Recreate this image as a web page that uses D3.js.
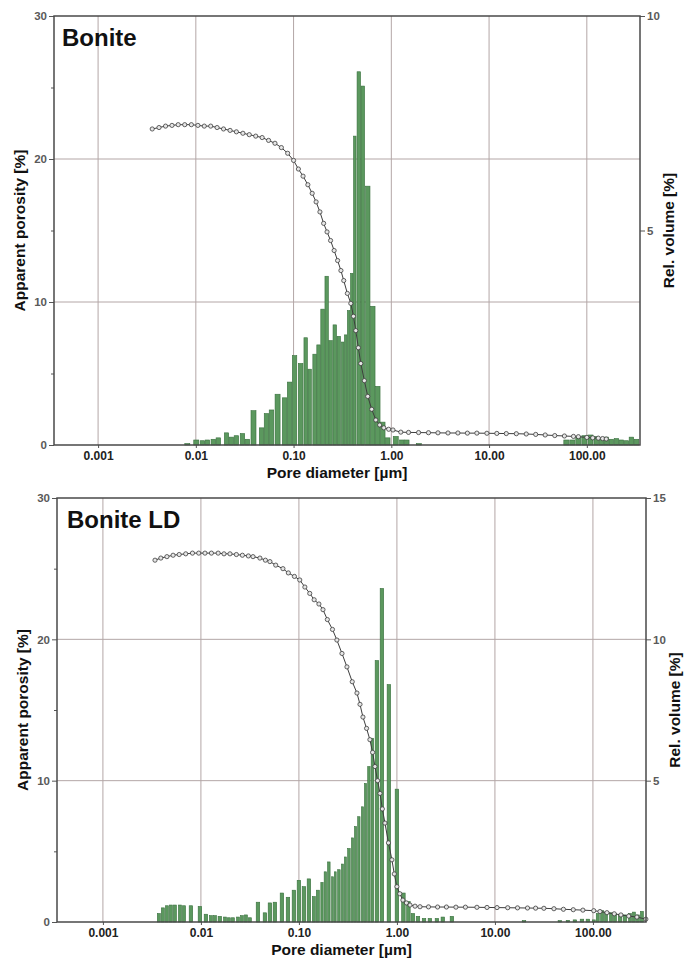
<!DOCTYPE html>
<html>
<head>
<meta charset="utf-8">
<script src="https://cdn.jsdelivr.net/npm/d3@7"></script>
<style>
  body { margin: 0; background: #fff; }
  svg { display: block; font-family: "Liberation Sans", Arial, sans-serif; }
</style>
</head>
<body>
<svg id="chart" width="688" height="963"></svg>
<script>
// pore diameter axis (µm, log)
const xTicks = [0.001, 0.01, 0.1, 1, 10, 100]
const xTickLabels = ["0.001", "0.01", "0.10", "1.00", "10.00", "100.00"]
const leftTicks = [0, 10, 20, 30]
const leftMinor = [5, 15, 25]

// Bonite - histogram (apparent porosity %)
const boniteD = [0.00818, 0.0101, 0.01167, 0.01313, 0.0151, 0.0170, 0.0206, 0.0231, 0.0260, 0.0300,
  0.0337, 0.0389, 0.0470, 0.0528, 0.0594, 0.0686, 0.0809, 0.0910, 0.1023, 0.118,
  0.133, 0.146, 0.164, 0.180, 0.198, 0.218, 0.239, 0.264, 0.290, 0.318,
  0.341, 0.366, 0.394, 0.423, 0.465, 0.511, 0.574, 0.646, 0.727, 0.818,
  0.920, 1.11, 1.28, 1.44, 1.91,
  61.7, 71.0, 81.8, 94.3, 109, 125, 141, 158, 178, 201, 226, 254, 286, 322]
const boniteP = [0.1, 0.35, 0.3, 0.35, 0.4, 0.5, 0.85, 0.55, 0.65, 0.8,
  0.4, 2.4, 1.2, 2.2, 2.45, 3.55, 3.3, 4.4, 6.25, 5.7,
  7.5, 5.3, 6.35, 7.0, 9.5, 11.8, 7.3, 8.4, 7.6, 7.2,
  7.7, 9.4, 12.0, 21.6, 26.1, 25.1, 18.1, 9.7, 4.1, 1.6,
  0.5, 0.6, 0.35, 0.35, 0.1,
  0.35, 0.35, 0.6, 0.65, 0.7, 0.6, 0.45, 0.55, 0.4, 0.45, 0.35, 0.3, 0.55, 0.4]
// Bonite - cumulative curve
const boniteCumD = [0.00358, 0.0042, 0.0049, 0.0057, 0.0066, 0.0077, 0.009, 0.0105, 0.0122, 0.0142,
  0.0165, 0.0192, 0.0224, 0.026, 0.0303, 0.0352, 0.041, 0.0477, 0.0555, 0.0645,
  0.075, 0.087, 0.1, 0.112, 0.125, 0.14, 0.155, 0.17, 0.186, 0.203,
  0.22, 0.239, 0.26, 0.282, 0.305, 0.326, 0.355, 0.385, 0.41, 0.433,
  0.46, 0.487, 0.53, 0.574, 0.63, 0.694, 0.76, 0.838, 0.94, 1.04,
  1.25, 1.5, 1.9, 2.4, 3.0, 3.8, 4.8, 6.0, 7.5, 9.5,
  12, 15, 19, 24, 30, 37.5, 47, 59, 73, 82, 100, 115, 131, 145, 158]
const boniteCum = [22.1, 22.2, 22.3, 22.35, 22.4, 22.4, 22.4, 22.35, 22.3, 22.3,
  22.2, 22.1, 22.0, 21.9, 21.8, 21.7, 21.6, 21.5, 21.3, 21.1,
  20.8, 20.4, 19.9, 19.3, 18.8, 18.2, 17.6, 17.0, 16.3, 15.5,
  14.9, 14.3, 13.6, 12.9, 12.2, 11.5, 10.6, 9.9, 9.0, 8.0,
  6.8, 5.7, 4.5, 3.4, 2.5, 1.75, 1.4, 1.2, 1.1, 1.05,
  0.9, 0.88, 0.87, 0.86, 0.85, 0.84, 0.84, 0.83, 0.83, 0.82,
  0.81, 0.8, 0.79, 0.77, 0.74, 0.7, 0.66, 0.63, 0.6, 0.58, 0.53, 0.5, 0.48, 0.45, 0.42]

// Bonite LD - histogram
const ldD = [0.00372, 0.00409, 0.00450, 0.00494, 0.00543, 0.00611, 0.00672, 0.00791, 0.00977, 0.01125,
  0.01265, 0.0139, 0.0156, 0.0176, 0.0193, 0.0212, 0.0239, 0.0262, 0.0288, 0.0316,
  0.0382, 0.0450, 0.0506, 0.0569, 0.0671, 0.0773, 0.0889, 0.1, 0.1125, 0.1265,
  0.142, 0.156, 0.172, 0.186, 0.202, 0.220, 0.235, 0.256, 0.278, 0.298,
  0.324, 0.352, 0.378, 0.409, 0.445, 0.478, 0.518, 0.562, 0.625, 0.703,
  0.828, 1.0, 1.165, 1.31, 1.456, 1.64, 1.89, 2.17, 2.56, 2.94, 3.64,
  19.8, 46.0, 55.6, 65.5, 77.3, 88.9, 102, 112, 124, 136, 153, 168, 189, 212, 239, 262, 288, 316]
const ldP = [0.6, 1.0, 1.15, 1.2, 1.2, 1.2, 1.15, 1.15, 1.1, 0.55,
  0.45, 0.45, 0.4, 0.35, 0.3, 0.3, 0.35, 0.45, 0.5, 0.3,
  1.4, 0.65, 1.35, 1.4, 2.05, 1.75, 2.25, 2.95, 2.5, 3.05,
  1.8, 2.25, 2.8, 3.55, 4.25, 3.2, 3.55, 3.7, 4.1, 4.6,
  5.2, 5.95, 6.75, 7.45, 8.15, 9.8, 11.0, 13.0, 18.5, 23.6,
  16.8, 9.4, 2.05, 1.45, 0.6, 0.4, 0.25, 0.25, 0.25, 0.35, 0.4,
  0.1, 0.1, 0.12, 0.15, 0.2, 0.2, 0.15, 0.6, 0.8, 0.7, 0.65, 0.6, 0.55, 0.5, 0.6, 0.7, 0.5, 0.75]
// Bonite LD - cumulative curve
const ldCumD = [0.0034, 0.0039, 0.0045, 0.0052, 0.006, 0.007, 0.0082, 0.0095, 0.011, 0.0128,
  0.015, 0.0172, 0.0198, 0.023, 0.0265, 0.0305, 0.034, 0.04, 0.0455, 0.0506,
  0.058, 0.0687, 0.078, 0.09, 0.102, 0.115, 0.129, 0.143, 0.16, 0.176,
  0.195, 0.22, 0.244, 0.275, 0.309, 0.35, 0.391, 0.42, 0.45, 0.49,
  0.53, 0.565, 0.597, 0.635, 0.672, 0.71, 0.755, 0.82, 0.889, 0.94,
  1.0, 1.07, 1.15, 1.25, 1.36, 1.53, 1.72, 2.1, 2.6, 3.2,
  4.0, 5.0, 6.55, 8.3, 10.5, 13.5, 17, 21.5, 26, 31.6,
  40, 50, 63, 79, 102, 118, 139, 165, 193, 232, 281, 347]
const ldCum = [25.6, 25.75, 25.85, 25.95, 26.0, 26.05, 26.1, 26.1, 26.1, 26.1,
  26.1, 26.05, 26.05, 26.0, 25.95, 25.9, 25.85, 25.75, 25.6, 25.5,
  25.25, 25.0, 24.7, 24.45, 24.2, 23.7, 23.25, 22.8, 22.5, 22.1,
  21.4, 20.7, 19.95, 19.0, 18.05, 17.0, 16.2, 15.4, 14.5, 13.7,
  12.9, 12.0, 11.0, 10.0, 9.1, 8.0, 7.0, 5.6, 4.4, 3.4,
  2.5, 2.0, 1.55, 1.35, 1.2, 1.12, 1.08, 1.07, 1.06, 1.06,
  1.05, 1.05, 1.04, 1.03, 1.02, 1.01, 1.0, 0.99, 0.98, 0.97,
  0.94, 0.9, 0.87, 0.84, 0.8, 0.74, 0.66, 0.58, 0.5, 0.42, 0.35, 0.2]

const svg = d3.select("#chart")

function drawPanel(p) {
  const {left, right, top, bottom} = p.box
  const x = d3.scaleLog().domain(p.xDomain).range([left, right])
  const y = d3.scaleLinear().domain([0, 30]).range([bottom, top])
  const yR = d3.scaleLinear().domain([0, p.rightMax]).range([bottom, top])
  const g = svg.append("g")

  // grid
  g.append("g")
    .selectAll("line")
    .data(xTicks)
    .join("line")
    .attr("x1", d => x(d)).attr("x2", d => x(d))
    .attr("y1", top).attr("y2", bottom)
    .attr("stroke", "#b3a6a6").attr("stroke-width", 1)
  g.append("g")
    .selectAll("line")
    .data([10, 20])
    .join("line")
    .attr("x1", left).attr("x2", right)
    .attr("y1", d => y(d)).attr("y2", d => y(d))
    .attr("stroke", "#b3a6a6").attr("stroke-width", 1)

  // bars, width from the spacing of neighbouring bins
  const px = p.barD.map(d => x(d))
  const bw = px.map((v, i) => {
    const a = i > 0 ? v - px[i - 1] : p.maxW
    const b = i < px.length - 1 ? px[i + 1] - v : p.maxW
    return Math.min(a, b, p.maxW) - p.gap
  })
  g.append("g")
    .selectAll("rect")
    .data(p.barP)
    .join("rect")
    .attr("x", (d, i) => px[i] - bw[i] / 2)
    .attr("width", (d, i) => bw[i])
    .attr("y", d => y(d))
    .attr("height", d => y(0) - y(d))
    .attr("fill", "#5b985e")
    .attr("stroke", "#386f3d")
    .attr("stroke-width", 0.6)

  // cumulative curve
  const pts = p.cumD.map((d, i) => [x(d), y(p.cum[i])])
  g.append("path")
    .attr("d", d3.line()(pts))
    .attr("fill", "none")
    .attr("stroke", "#3e3e3e")
    .attr("stroke-width", 1)
  g.append("g")
    .selectAll("circle")
    .data(pts)
    .join("circle")
    .attr("cx", d => d[0]).attr("cy", d => d[1])
    .attr("r", 2.1)
    .attr("fill", "#e6e6e6")
    .attr("stroke", "#3e3e3e")
    .attr("stroke-width", 0.8)

  // axes
  const ax = g.append("g").attr("font-weight", "bold")
  ax.append("g")
    .attr("transform", `translate(${left},0)`)
    .call(d3.axisLeft(y).tickValues(leftTicks).tickSize(5).tickPadding(2))
  ax.append("g")
    .attr("transform", `translate(${left},0)`)
    .call(d3.axisLeft(y).tickValues(leftMinor).tickSize(3).tickFormat(""))
  ax.append("g")
    .attr("transform", `translate(${right},0)`)
    .call(d3.axisRight(yR).tickValues(p.rightTicks).tickSize(5).tickPadding(2))
  ax.append("g")
    .attr("class", "xax")
    .attr("transform", `translate(0,${bottom})`)
    .call(d3.axisBottom(x).tickValues(xTicks).tickFormat((d, i) => xTickLabels[i]).tickSize(3).tickPadding(3))
  ax.selectAll(".domain").remove()
  ax.selectAll(".tick line").attr("stroke", "#555")
  ax.selectAll(".tick text").attr("font-size", 11.5).attr("fill", "#5a5a5a")
    .attr("font-family", "'Liberation Sans', Arial, sans-serif")
  ax.selectAll(".xax .tick text").attr("font-size", 12).attr("fill", "#222")

  // frame
  g.append("path")
    .attr("d", `M${left},${bottom}V${top}H${right}V${bottom}Z`)
    .attr("fill", "none")
    .attr("stroke", "#4a4a4a")
    .attr("stroke-width", 1.5)

  // titles
  g.append("text")
    .attr("x", left + p.titleDx).attr("y", top + 30)
    .attr("font-size", 24).attr("font-weight", "bold").attr("fill", "#111")
    .text(p.title)
  g.append("text")
    .attr("x", (left + right) / 2 - 10).attr("y", bottom + 33)
    .attr("text-anchor", "middle")
    .attr("font-size", 15.5).attr("font-weight", "bold").attr("fill", "#111")
    .text("Pore diameter [µm]")
  g.append("text")
    .attr("transform", `translate(${left - 29},${(top + bottom) / 2}) rotate(-90)`)
    .attr("text-anchor", "middle")
    .attr("font-size", 15.5).attr("font-weight", "bold").attr("fill", "#111")
    .text("Apparent porosity [%]")
  g.append("text")
    .attr("transform", `translate(${right + 34},${(top + bottom) / 2}) rotate(-90)`)
    .attr("text-anchor", "middle")
    .attr("font-size", 15.5).attr("font-weight", "bold").attr("fill", "#111")
    .text("Rel. volume [%]")
}

drawPanel({
  box: {left: 54, right: 640, top: 16, bottom: 445},
  xDomain: [0.000354, 350],
  rightMax: 10, rightTicks: [5, 10],
  barD: boniteD, barP: boniteP, maxW: 5.5, gap: 0.5,
  cumD: boniteCumD, cum: boniteCum,
  title: "Bonite", titleDx: 8
})

drawPanel({
  box: {left: 57, right: 646, top: 498, bottom: 922},
  xDomain: [0.00034, 348],
  rightMax: 15, rightTicks: [5, 10, 15],
  barD: ldD, barP: ldP, maxW: 4.5, gap: 1,
  cumD: ldCumD, cum: ldCum,
  title: "Bonite LD", titleDx: 10
})
</script>
</body>
</html>
